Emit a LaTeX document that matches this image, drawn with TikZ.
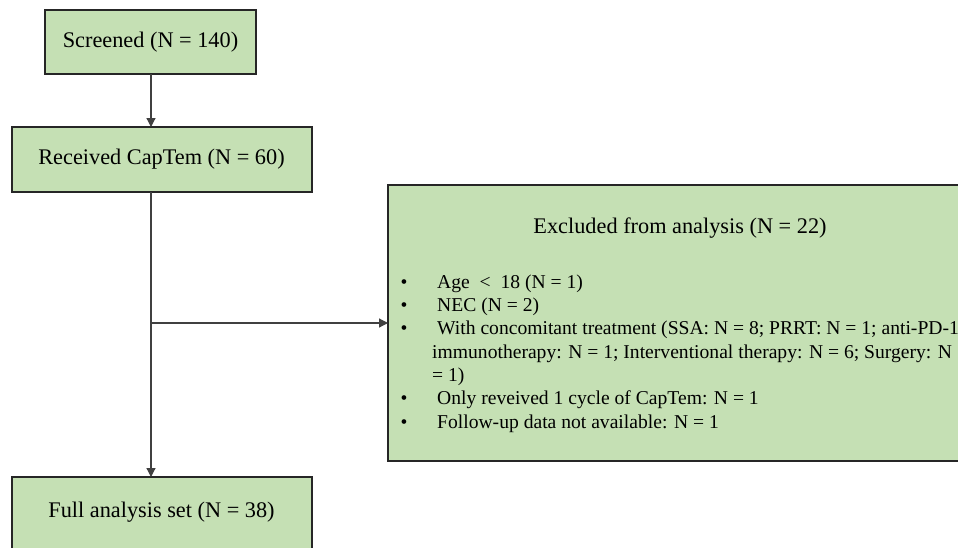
\documentclass[tikz,border=0pt]{standalone}
\usepackage{fontspec}
\setmainfont{Liberation Serif}
\usetikzlibrary{arrows.meta}
\definecolor{boxgreen}{HTML}{C5E0B4}
\definecolor{edge}{HTML}{262626}
\definecolor{conn}{HTML}{404040}
\tikzset{
  flowbox/.style={draw=edge, line width=1.6pt, fill=boxgreen},
  boxtext/.style={font=\fontsize{22.3}{26}\selectfont, inner sep=0pt},
  conline/.style={draw=conn, line width=1.2pt},
  conarrow/.style={conline, -{Triangle[length=9pt,width=9pt]}}
}
\begin{document}
\begin{tikzpicture}[x=1pt,y=1pt]
\useasboundingbox (0,0) rectangle (958,-547);
\clip (0,0) rectangle (958,-547);
\fill[white] (0,0) rectangle (958,-547);
% boxes
\draw[flowbox] (45,-10) rectangle (256,-74);
\node[boxtext] (screened) at (150.5,-42) {Screened (N = 140)};
\coordinate (scrbot) at (151,-74);
\draw[flowbox] (12,-127) rectangle (312,-192);
\node[boxtext] (received) at (161.5,-159.5) {Received CapTem (N = 60)};
\coordinate (rectop) at (151,-127);
\coordinate (recbot) at (151,-192);
\draw[flowbox] (388,-185) rectangle (975,-461);
\node[boxtext] (exctitle) at (680,-228) {Excluded from analysis (N = 22)};
\coordinate (excleft) at (388,-323);
\node[boxtext, anchor=north west, align=left, font=\fontsize{19.6}{23.3}\selectfont] (exclist) at (400.5,-274.5) {%
\makebox[36.5pt][l]{\textbullet}Age ~<~ 18 (N = 1)\\
\makebox[36.5pt][l]{\textbullet}NEC (N = 2)\\
\makebox[36.5pt][l]{\textbullet}With concomitant treatment (SSA: N = 8; PRRT: N = 1; anti-PD-1\\
\hspace*{31.5pt}immunotherapy: N = 1; Interventional therapy: N = 6; Surgery: N\\
\hspace*{31.5pt}= 1)\\
\makebox[36.5pt][l]{\textbullet}Only reveived 1 cycle of CapTem: N = 1\\
\makebox[36.5pt][l]{\textbullet}Follow-up data not available: N = 1};
\draw[flowbox] (12,-477) rectangle (312,-560);
\node[boxtext] (full) at (161.5,-512) {Full analysis set (N = 38)};
\coordinate (fulltop) at (151,-477);
\coordinate (branch) at (151,-323);
% connectors
\draw[conarrow] (scrbot) -- (rectop);
\draw[conarrow] (recbot) -- (fulltop);
\draw[conarrow] (branch) -- (excleft);
\end{tikzpicture}
\end{document}
